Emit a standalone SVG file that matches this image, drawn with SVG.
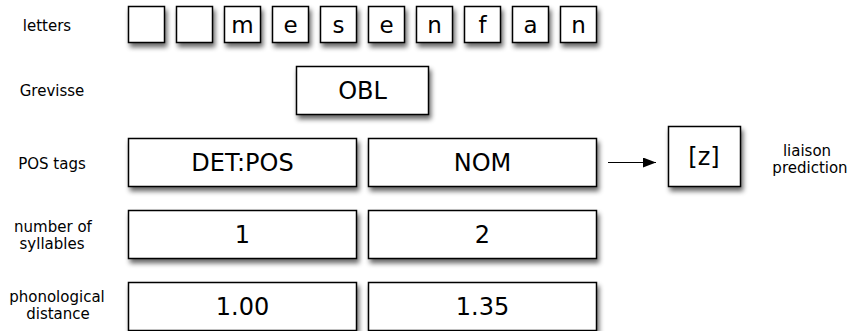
<svg xmlns="http://www.w3.org/2000/svg" width="849" height="331" viewBox="0 0 849 331">
<style>
.box{fill:#fff;stroke:#000;stroke-width:1.5;filter:url(#sh)}
.lbl{font-family:"DejaVu Sans",Verdana,sans-serif;font-size:15px;fill:#000;text-anchor:middle}
.bt{font-family:"DejaVu Sans",Verdana,sans-serif;font-size:24px;fill:#000;text-anchor:middle}
.lt{font-family:"DejaVu Sans",Verdana,sans-serif;font-size:23px;fill:#000;text-anchor:middle}
.conn{stroke:#000;stroke-width:1.2;fill:none}
</style>
<defs>
<filter id="sh" x="-20%" y="-20%" width="150%" height="160%">
<feGaussianBlur in="SourceAlpha" stdDeviation="2.5"/>
<feOffset dx="2" dy="4" result="b"/>
<feComponentTransfer><feFuncA type="linear" slope="0.6"/></feComponentTransfer>
<feMerge><feMergeNode/><feMergeNode in="SourceGraphic"/></feMerge>
</filter>
<marker id="ah" viewBox="0 0 13 10" refX="13" refY="5" markerWidth="13" markerHeight="10" markerUnits="userSpaceOnUse" orient="auto">
<path d="M0,0 L13,5 L0,10 Z" fill="#000"/>
</marker>
</defs>

<g id="row-labels">
<text class="lbl" x="47" y="31">letters</text>
<text class="lbl" x="52" y="96">Grevisse</text>
<text class="lbl" x="52" y="169">POS tags</text>
<text class="lbl" x="53" y="232">number of</text>
<text class="lbl" x="52" y="249">syllables</text>
<text class="lbl" x="57" y="302">phonological</text>
<text class="lbl" x="58" y="319">distance</text>
</g>

<g id="letters">
<g id="l1"><rect class="box" x="128.5" y="6.5" width="36" height="36"/></g>
<g id="l2"><rect class="box" x="176.5" y="6.5" width="36" height="36"/></g>
<g id="l3"><rect class="box" x="224.5" y="6.5" width="36" height="36"/><text class="lt" x="242.5" y="33">m</text></g>
<g id="l4"><rect class="box" x="272.5" y="6.5" width="36" height="36"/><text class="lt" x="290.5" y="33">e</text></g>
<g id="l5"><rect class="box" x="320.5" y="6.5" width="36" height="36"/><text class="lt" x="338.5" y="33">s</text></g>
<g id="l6"><rect class="box" x="368.5" y="6.5" width="36" height="36"/><text class="lt" x="386.5" y="33">e</text></g>
<g id="l7"><rect class="box" x="416.5" y="6.5" width="36" height="36"/><text class="lt" x="434.5" y="33">n</text></g>
<g id="l8"><rect class="box" x="464.5" y="6.5" width="36" height="36"/><text class="lt" x="482.5" y="33">f</text></g>
<g id="l9"><rect class="box" x="512.5" y="6.5" width="36" height="36"/><text class="lt" x="530.5" y="33">a</text></g>
<g id="l10"><rect class="box" x="560.5" y="6.5" width="36" height="36"/><text class="lt" x="578.5" y="33">n</text></g>
</g>

<g id="obl"><rect class="box" x="296.5" y="66.5" width="132" height="48"/><text class="bt" x="362.5" y="99">OBL</text></g>

<g id="pos1"><rect class="box" x="128.5" y="138.5" width="228" height="48"/><text class="bt" x="242.5" y="171">DET:POS</text></g>
<g id="pos2"><rect class="box" x="368.5" y="138.5" width="228" height="48"/><text class="bt" x="482.5" y="171">NOM</text></g>

<g id="syl1"><rect class="box" x="128.5" y="210.5" width="228" height="48"/><text class="bt" x="242.5" y="243">1</text></g>
<g id="syl2"><rect class="box" x="368.5" y="210.5" width="228" height="48"/><text class="bt" x="482.5" y="243">2</text></g>

<g id="dist1"><rect class="box" x="128.5" y="282.5" width="228" height="48"/><text class="bt" x="242.5" y="315">1.00</text></g>
<g id="dist2"><rect class="box" x="368.5" y="282.5" width="228" height="48"/><text class="bt" x="482.5" y="315">1.35</text></g>

<g id="liaison"><rect class="box" x="668.5" y="126.5" width="72" height="60"/><text class="bt" x="704" y="165">[z]</text></g>

<g id="liaison-label">
<text class="lbl" x="807" y="156">liaison</text>
<text class="lbl" x="810" y="173">prediction</text>
</g>

<g id="connectors">
<line class="conn" x1="608" y1="162.5" x2="656" y2="162.5" marker-end="url(#ah)"/>
</g>
</svg>
